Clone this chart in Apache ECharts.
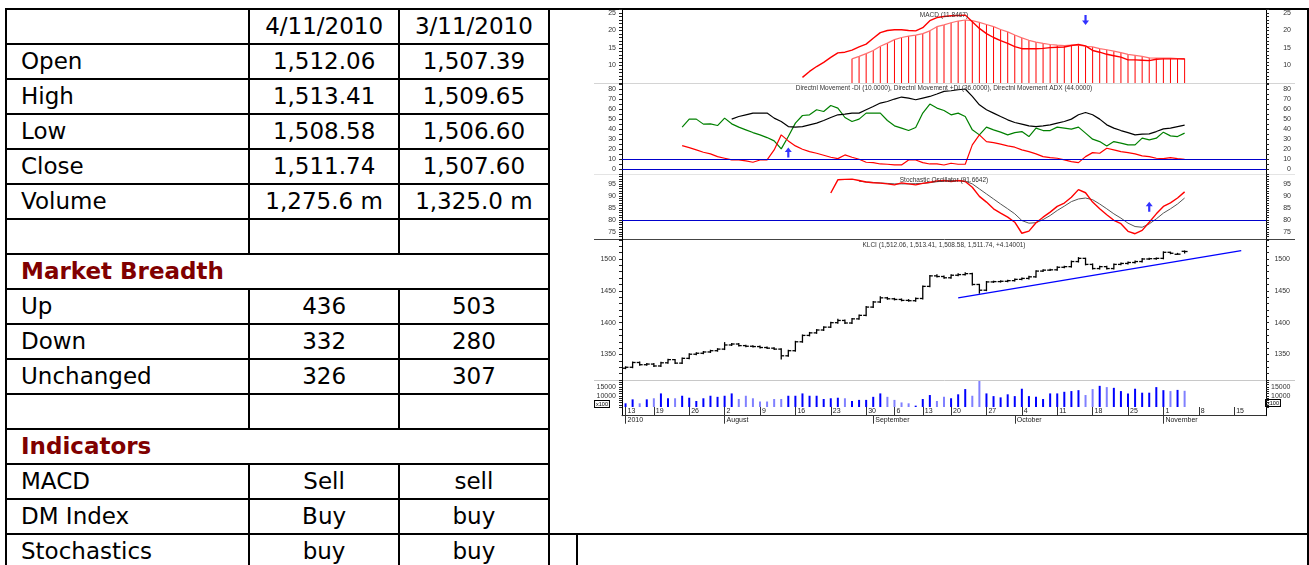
<!DOCTYPE html>
<html>
<head>
<meta charset="utf-8">
<script src="https://cdn.jsdelivr.net/npm/echarts@6/dist/echarts.min.js"></script>
<style>
html,body{margin:0;padding:0;background:#fff;width:1309px;height:565px;overflow:hidden}
#tbl{position:absolute;left:5px;top:8px;border-collapse:collapse;table-layout:fixed;font-family:"DejaVu Sans",Verdana,sans-serif;font-size:23px;color:#000}
#tbl td{border:2px solid #000;padding:0;height:33px;line-height:33px;white-space:nowrap;overflow:hidden}
#tbl td.l{padding-left:14px}
#tbl td.v{text-align:center}
#tbl td.h{color:#800000;font-weight:bold;padding-left:14px}
#chart{position:absolute;left:0;top:0;width:1309px;height:565px;z-index:2}
</style>
</head>
<body>
<table id="tbl">
<colgroup><col style="width:247px"><col style="width:151px"><col style="width:151px"><col style="width:29px"><col style="width:760px"></colgroup>
<tr><td></td><td class="v">4/11/2010</td><td class="v">3/11/2010</td><td colspan="2" rowspan="15"></td></tr>
<tr><td class="l">Open</td><td class="v">1,512.06</td><td class="v">1,507.39</td></tr>
<tr><td class="l">High</td><td class="v">1,513.41</td><td class="v">1,509.65</td></tr>
<tr><td class="l">Low</td><td class="v">1,508.58</td><td class="v">1,506.60</td></tr>
<tr><td class="l">Close</td><td class="v">1,511.74</td><td class="v">1,507.60</td></tr>
<tr><td class="l">Volume</td><td class="v">1,275.6 m</td><td class="v">1,325.0 m</td></tr>
<tr><td></td><td></td><td></td></tr>
<tr><td class="h" colspan="3">Market Breadth</td></tr>
<tr><td class="l">Up</td><td class="v">436</td><td class="v">503</td></tr>
<tr><td class="l">Down</td><td class="v">332</td><td class="v">280</td></tr>
<tr><td class="l">Unchanged</td><td class="v">326</td><td class="v">307</td></tr>
<tr><td></td><td></td><td></td></tr>
<tr><td class="h" colspan="3">Indicators</td></tr>
<tr><td class="l">MACD</td><td class="v">Sell</td><td class="v">sell</td></tr>
<tr><td class="l">DM Index</td><td class="v">Buy</td><td class="v">buy</td></tr>
<tr><td class="l">Stochastics</td><td class="v">buy</td><td class="v">buy</td><td></td><td></td></tr>
</table>
<div id="chart"></div>
<script>
// trading days, 13 Jul - 19 Nov 2010
var dates = ['7/13','7/14','7/15','7/16',
	'7/19','7/20','7/21','7/22','7/23',
	'7/26','7/27','7/28','7/29','7/30',
	'8/2','8/3','8/4','8/5','8/6',
	'8/9','8/10','8/11','8/12','8/13',
	'8/16','8/17','8/18','8/19','8/20',
	'8/23','8/24','8/25','8/26','8/27',
	'8/30','9/1','9/2','9/3',
	'9/6','9/7','9/8','9/9',
	'9/13','9/14','9/15','9/17',
	'9/20','9/21','9/22','9/23','9/24',
	'9/27','9/28','9/29','9/30','10/1',
	'10/4','10/5','10/6','10/7','10/8',
	'10/11','10/12','10/13','10/14','10/15',
	'10/18','10/19','10/20','10/21','10/22',
	'10/25','10/26','10/27','10/28','10/29',
	'11/1','11/2','11/3','11/4','11/5',
	'11/8','11/9','11/10','11/11','11/12',
	'11/15','11/16','11/17','11/18','11/19'];
var monthNames = {8:'August',9:'September',10:'October',11:'November'};

var priceOpen = [1328.5,1330.0,1337.5,1334.0,1335.0,1332.0,1337.0,1342.0,1336.5,1344.0,
	1350.5,1352.0,1354.0,1356.0,1358.5,1365.0,1366.5,1364.0,1363.0,1362.5,
	1361.0,1360.0,1358.5,1348.0,1356.0,1370.0,1380.0,1384.0,1388.5,1393.0,
	1400.0,1403.5,1399.5,1406.0,1411.5,1424.5,1432.5,1439.0,1437.5,1436.5,
	1435.0,1434.5,1438.0,1457.0,1473.5,1472.5,1470.5,1474.5,1475.5,1477.0,
	1460.0,1451.0,1464.0,1464.5,1465.0,1466.0,1468.0,1469.5,1472.0,1481.0,
	1482.5,1483.0,1487.0,1488.0,1496.0,1501.0,1491.5,1485.0,1488.0,1485.0,
	1491.5,1493.0,1494.5,1496.0,1500.0,1500.5,1501.0,1510.5,1507.39,1512.06];
var priceHigh = [1331.5,1339.0,1339.0,1336.5,1336.5,1338.5,1343.5,1343.0,1345.5,1352.0,
	1353.5,1355.5,1357.5,1360.0,1369.5,1368.0,1368.0,1365.5,1364.5,1364.0,
	1362.5,1361.5,1360.0,1357.5,1371.5,1381.5,1385.5,1390.0,1394.5,1401.5,
	1406.0,1405.0,1407.5,1413.0,1426.0,1434.0,1441.5,1440.5,1439.0,1438.0,
	1437.0,1439.5,1458.5,1475.0,1476.0,1474.0,1476.0,1477.5,1479.0,1478.5,
	1461.0,1465.5,1466.0,1466.5,1467.5,1469.5,1471.0,1473.5,1482.5,1484.0,
	1484.5,1488.5,1489.5,1497.5,1503.0,1502.0,1493.0,1489.5,1489.5,1493.0,
	1494.5,1496.0,1497.5,1501.5,1502.0,1502.5,1512.0,1511.5,1509.65,1513.41];
var priceLow = [1327.0,1328.5,1332.5,1332.5,1330.5,1330.5,1335.5,1335.0,1335.0,1342.5,
	1349.0,1350.5,1352.5,1354.5,1357.0,1363.5,1362.5,1361.5,1361.0,1359.5,
	1358.5,1357.0,1342.0,1346.5,1354.5,1368.5,1378.5,1382.5,1387.0,1391.5,
	1398.5,1398.0,1398.0,1404.5,1410.0,1423.0,1431.0,1436.0,1435.0,1433.5,
	1433.0,1433.0,1436.5,1455.5,1471.0,1469.0,1469.0,1473.0,1474.0,1458.5,
	1445.5,1449.5,1462.5,1463.0,1463.5,1464.5,1466.5,1468.0,1470.5,1479.5,
	1481.0,1481.5,1485.5,1486.5,1494.5,1490.0,1483.5,1483.5,1483.5,1483.5,
	1490.0,1491.5,1493.0,1494.5,1498.5,1499.0,1499.5,1507.5,1506.60,1508.58];
var priceClose = [1330.0,1337.5,1334.0,1335.0,1332.0,1337.0,1342.0,1336.5,1344.0,1350.5,
	1352.0,1354.0,1356.0,1358.5,1365.0,1366.5,1364.0,1363.0,1362.5,1361.0,
	1360.0,1358.5,1348.0,1356.0,1370.0,1380.0,1384.0,1388.5,1393.0,1400.0,
	1403.5,1399.5,1406.0,1411.5,1424.5,1432.5,1439.0,1437.5,1436.5,1435.0,
	1434.5,1438.0,1457.0,1473.5,1472.5,1470.5,1474.5,1475.5,1477.0,1460.0,
	1451.0,1464.0,1464.5,1465.0,1466.0,1468.0,1469.5,1472.0,1481.0,1482.5,
	1483.0,1487.0,1488.0,1496.0,1501.0,1491.5,1485.0,1488.0,1485.0,1491.5,
	1493.0,1494.5,1496.0,1500.0,1500.5,1501.0,1510.5,1509.0,1507.60,1511.74];
// volume in x100
var volume = [5800,8000,5800,8000,8600,11300,8600,8600,10000,8900,
	7100,8600,10000,9400,10000,11300,8200,10000,8600,6800,
	6800,8200,8200,10000,10000,11300,10000,10000,8200,8600,
	8900,8600,7100,7700,7700,9400,11300,9400,7700,6300,
	5800,4500,8200,10400,7100,9400,8600,10800,13700,10000,
	18200,11300,9800,9100,10800,9800,13900,9800,9400,8200,
	11300,11300,12200,12600,13100,10400,13700,15500,14800,14400,
	12600,11300,13900,11700,11700,14800,13100,12600,13250,12756];

var macdStart = 25;
var macdLine = [6.6,8.3,9.7,10.9,12.3,13.6,13.8,14.4,15.3,16.1,
	17.8,19.4,20.0,20.2,20.2,20.0,19.9,20.8,22.8,23.7,
	24.0,24.2,24.3,24.4,22.5,20.6,19.1,18.0,17.1,16.3,
	15.4,14.8,14.8,14.8,14.9,15.1,15.2,15.3,15.7,16.0,
	15.6,14.3,13.8,13.2,12.8,12.4,11.6,11.6,11.5,11.4,
	11.8,11.9,11.9,11.9,11.85];
var signalStart = 32;
var macdSignal = [11.9,12.6,13.4,14.3,15.5,16.4,17.4,18.0,18.4,18.7,
	19.1,19.9,21.1,21.6,22.2,22.7,23.0,22.8,22.3,21.7,
	21.1,20.3,19.6,18.7,17.9,17.2,16.7,16.3,16.0,15.8,
	15.7,15.8,15.8,15.5,15.3,14.8,14.5,14.1,13.7,13.2,
	12.9,12.6,12.2,12.1,12.1,12.1,12.0,12.0];

var diStart = 8;
var diPlus = [42,50,50,45,45.3,43.6,51,45.3,42,39.3,
	36.6,34.3,31.6,28.3,20.3,32.6,46,53.6,54.3,59.3,
	57.6,63.6,61,51.6,47.6,50,56,56,56,48.6,
	43.3,41,38.6,41.6,56,65,61,58.6,54.3,56,
	52.6,39.3,34.3,42,39.3,37,34.3,36.6,37.6,32.6,
	41,38.6,38.6,42,41,40,42,36,30,27.6,
	23.3,27.6,26,24.3,24.3,31,29.3,31,37,33.3,
	32.6,36];
var diMinus = [23.6,21.6,19.3,17,15.3,12.6,11,9.3,9.3,8.3,
	7,9.3,9.3,19.3,34.3,28.3,23.3,20,17.6,16,
	14,12,10.6,14.3,12,10,7,6.6,5.3,5,
	4.3,4.3,9.3,9.3,6.6,5.3,5.3,4.3,6,5,
	5,24.3,34.3,27.6,26.6,25,23.3,22,19.3,17.6,
	15.3,12.6,11.6,11,9.3,7.6,6.6,12.6,16.6,16,
	21,19.3,17.6,16.6,15.3,13.3,12.6,11,10.6,11.6,
	10.6,10];
var adxStart = 15;
var adx = [50,52.6,54.3,56,56,56,51,47.6,42.6,42,
	42.6,44.3,46,48.6,51.6,54.3,55,56,56,59.3,
	62.6,66,67.6,70,72,71,69.3,71,72.6,75,
	77.6,78.3,79.3,80,72.6,64.3,59.3,56,52.6,49.3,
	46.6,45,43.3,42.6,43.3,44.3,46,47.6,50,54.3,
	56.6,54.3,50,44.3,41,38.6,36.6,34.3,35,35.3,
	37.6,40.3,41,42.6,44];

var stochKStart = 29;
var stochK = [91.2,96.7,96.9,97.0,96.4,95.8,95.5,95.3,95.0,94.6,
	95.4,95.0,94.6,95.2,95.7,96.2,96.4,96.0,96.4,96.0,
	93.6,89.8,87.4,84.6,82.8,81.1,79.0,74.4,75.3,78.8,
	81.1,83.2,85.6,87.0,89.4,92.6,91.3,87.4,84.6,82.1,
	79.8,78.4,75.2,74.2,75.6,79.0,82.5,85.6,87.1,89.1,
	91.66];
var stochDStart = 33;
var stochD = [96.1,95.8,95.6,95.4,95.2,95.0,95.0,95.0,95.1,95.2,
	95.5,95.9,96.2,96.4,96.3,96.1,95.0,92.9,90.8,88.7,
	86.6,84.6,82.5,79.7,78.6,78.8,80.1,81.8,83.9,85.7,
	87.6,88.7,89.1,88.4,86.6,84.6,82.5,80.7,78.6,77.2,
	76.9,78.3,80.4,82.8,84.6,86.6,89.1];

var trendLine = [[47, 1439], [87, 1513]];
var macdSell = [[65, 23]];
var dmiBuy = [[23, 16.8]];
var stochBuy = [[74, 85.5]];

var axisFont = 'Liberation Sans';
var upArrow = 'path://M3.5,0 L7,5 L4.6,5 L4.6,11 L2.4,11 L2.4,5 L0,5 Z';

function pairs(start, values){
	return values.map(function(v, k){ return [start + k, v]; });
}
function mult(step, from){
	return function(v){ return v >= from && Math.abs(v / step - Math.round(v / step)) < 1e-6; };
}
function catAxis(g){
	return {type:'category', gridIndex:g, data:dates, boundaryGap:true, show:false};
}
function valAxis(g, side, min, max, interval, keep, rightMargin, rightAlign){
	var left = side == 'left';
	return {
		type:'value', gridIndex:g, position:side, min:min, max:max, interval:interval,
		splitLine:{show:false},
		axisLine:{show:true, onZero:false, lineStyle:{color:'#000', width:1}},
		axisTick:{show:true, length:3, lineStyle:{color:'#222'}},
		axisLabel:{
			show:true, fontSize:7, fontFamily:axisFont, color:'#333',
			margin: left ? 6 : (rightMargin || 25),
			align: left ? 'right' : (rightAlign || 'right'),
			formatter:function(v){ return keep(v) ? String(Math.round(v)) : ''; }
		}
	};
}
function blueLevels(levels){
	return {
		silent:true, symbol:'none', animation:false, label:{show:false},
		lineStyle:{color:'#0000cc', type:'solid', width:1, opacity:1},
		emphasis:{disabled:true},
		data:levels.map(function(v){ return {yAxis:v}; })
	};
}
function isWeekStart(i, v){
	var p = v.split('/');
	return i === 0 || new Date(2010, +p[0] - 1, +p[1]).getDay() === 1;
}
function isMonthStart(i, v){
	return i === 0 || v.split('/')[0] !== dates[i - 1].split('/')[0];
}
function renderOhlc(params, api){
	var x = api.value(0);
	var o = api.coord([x, api.value(1)]);
	var h = api.coord([x, api.value(2)]);
	var l = api.coord([x, api.value(3)]);
	var c = api.coord([x, api.value(4)]);
	var w = api.size([1, 0])[0] * 0.42;
	var st = {stroke:'#000', lineWidth:1.3};
	return {type:'group', children:[
		{type:'line', shape:{x1:h[0], y1:h[1], x2:l[0], y2:l[1]}, style:st},
		{type:'line', shape:{x1:o[0] - w, y1:o[1], x2:o[0], y2:o[1]}, style:st},
		{type:'line', shape:{x1:c[0], y1:c[1], x2:c[0] + w, y2:c[1]}, style:st}
	]};
}
function sepLine(y, color){
	return {type:'line', silent:true, shape:{x1:594, y1:y, x2:1295, y2:y}, style:{stroke:color, lineWidth:1}};
}
function panelTitle(y, text){
	return {type:'text', silent:true, x:944, y:y, z:100,
		style:{text:text, fontSize:6.5, fontFamily:axisFont, fill:'#333', align:'center', verticalAlign:'middle'}};
}
function boxLabel(x, y){
	return {type:'text', silent:true, x:x, y:y,
		style:{text:'x100', fontSize:5.5, fontFamily:axisFont, fill:'#000', align:'center', verticalAlign:'middle',
			borderColor:'#000', borderWidth:1, padding:[0,1,0,1], backgroundColor:'#fff'}};
}

var ohlcData = priceClose.map(function(c, i){
	return [i, priceOpen[i], priceHigh[i], priceLow[i], c];
});

var gridBase = {left:622, width:644, outerBoundsMode:'none', containLabel:false};
var grids = [
	Object.assign({top:9, height:74}, gridBase),
	Object.assign({top:83, height:91.3}, gridBase),
	Object.assign({top:174.3, height:64.7}, gridBase),
	Object.assign({top:239, height:141}, gridBase),
	Object.assign({top:380, height:27}, gridBase),
	Object.assign({top:407, height:8.7}, gridBase)
];

var xAxes = [catAxis(0), catAxis(1), catAxis(2), catAxis(3), catAxis(4),
	{
		type:'category', gridIndex:5, data:dates, boundaryGap:true, position:'bottom',
		axisLine:{show:true, onZero:false, lineStyle:{color:'#333', width:1}},
		axisTick:{show:true, inside:true, length:8.7, alignWithLabel:true, interval:isWeekStart, lineStyle:{color:'#333'}},
		axisLabel:{show:true, inside:true, margin:1.5, interval:isWeekStart, align:'left', padding:[0,0,0,2],
			fontSize:7, fontFamily:axisFont, color:'#222', hideOverlap:false,
			formatter:function(v){ return v.split('/')[1]; }}
	},
	{
		type:'category', gridIndex:5, data:dates, boundaryGap:true, position:'bottom',
		axisLine:{show:false, onZero:false},
		axisTick:{show:true, length:8, alignWithLabel:true, interval:isMonthStart, lineStyle:{color:'#333'}},
		axisLabel:{show:true, margin:1, interval:isMonthStart, align:'left', padding:[0,0,0,2],
			fontSize:7, fontFamily:axisFont, color:'#222', hideOverlap:false,
			formatter:function(v, i){ return i === 0 ? '2010' : monthNames[+v.split('/')[0]]; }}
	}
];

var yAxes = [
	valAxis(0, 'left', 5, 26.14, 1, mult(5, 10)),
	valAxis(0, 'right', 5, 26.14, 1, mult(5, 10)),
	valAxis(1, 'left', -5, 86, 5, mult(10, 0)),
	valAxis(1, 'right', -5, 86, 5, mult(10, 0)),
	valAxis(2, 'left', 72, 99, 1, mult(5, 75)),
	valAxis(2, 'right', 72, 99, 1, mult(5, 75)),
	valAxis(3, 'left', 1310, 1531.4, 10, mult(50, 1350)),
	valAxis(3, 'right', 1310, 1531.4, 10, mult(50, 1350), 24),
	valAxis(4, 'left', 3750, 18750, 1250, function(v){ return v == 10000 || v == 15000; }),
	valAxis(4, 'right', 3750, 18750, 1250, function(v){ return v == 10000 || v == 15000; }, 5, 'left'),
	{type:'value', gridIndex:5, position:'left', min:0, max:1, axisLine:{show:true, lineStyle:{color:'#000'}}, axisTick:{show:false}, axisLabel:{show:false}, splitLine:{show:false}},
	{type:'value', gridIndex:5, position:'right', min:0, max:1, axisLine:{show:true, lineStyle:{color:'#000'}}, axisTick:{show:false}, axisLabel:{show:false}, splitLine:{show:false}}
];

var option = {
	backgroundColor:'transparent',
	animation:false,
	grid:grids,
	xAxis:xAxes,
	yAxis:yAxes,
	graphic:[
		sepLine(83.5, '#d4d4d4'),
		sepLine(174.5, '#e4e4e4'),
		sepLine(239.5, '#444'),
		sepLine(380.5, '#c8c8c8'),
		panelTitle(15, 'MACD (11.8467)'),
		panelTitle(88.5, 'Directnl Movement -DI (10.0000), Directnl Movement +DI (36.0000), Directnl Movement ADX (44.0000)'),
		panelTitle(180, 'Stochastic Oscillator (91.6642)'),
		panelTitle(245.5, 'KLCI (1,512.06, 1,513.41, 1,508.58, 1,511.74, +4.14001)'),
		boxLabel(602, 404),
		boxLabel(1273, 403)
	],
	series:[
		{name:'signalBars', type:'bar', xAxisIndex:0, yAxisIndex:0, data:pairs(signalStart, macdSignal),
			barWidth:1, itemStyle:{color:'#ff0000'}, silent:true},
		{name:'signal', type:'line', xAxisIndex:0, yAxisIndex:0, data:pairs(signalStart, macdSignal),
			symbol:'none', lineStyle:{color:'#ff7070', width:1.2}},
		{name:'MACD', type:'line', xAxisIndex:0, yAxisIndex:0, data:pairs(macdStart, macdLine),
			symbol:'none', lineStyle:{color:'#ff0000', width:1.4}},
		{name:'macdSell', type:'scatter', xAxisIndex:0, yAxisIndex:0, data:macdSell,
			symbol:upArrow, symbolRotate:180, symbolSize:[7, 10], itemStyle:{color:'#0000ff'}, z:10},

		{name:'levels', type:'line', xAxisIndex:1, yAxisIndex:2, data:[], markLine:blueLevels([0, 10])},
		{name:'+DI', type:'line', xAxisIndex:1, yAxisIndex:2, data:pairs(diStart, diPlus),
			symbol:'none', lineStyle:{color:'#008000', width:1.2}},
		{name:'-DI', type:'line', xAxisIndex:1, yAxisIndex:2, data:pairs(diStart, diMinus),
			symbol:'none', lineStyle:{color:'#ff0000', width:1.2}},
		{name:'ADX', type:'line', xAxisIndex:1, yAxisIndex:2, data:pairs(adxStart, adx),
			symbol:'none', lineStyle:{color:'#000', width:1.2}},
		{name:'dmiBuy', type:'scatter', xAxisIndex:1, yAxisIndex:2, data:dmiBuy,
			symbol:upArrow, symbolSize:[7, 10], itemStyle:{color:'#0000ff'}, z:10},

		{name:'level80', type:'line', xAxisIndex:2, yAxisIndex:4, data:[], markLine:blueLevels([80])},
		{name:'%D', type:'line', xAxisIndex:2, yAxisIndex:4, data:pairs(stochDStart, stochD),
			symbol:'none', lineStyle:{color:'#555', width:1}},
		{name:'%K', type:'line', xAxisIndex:2, yAxisIndex:4, data:pairs(stochKStart, stochK),
			symbol:'none', lineStyle:{color:'#ff0000', width:1.4}},
		{name:'stochBuy', type:'scatter', xAxisIndex:2, yAxisIndex:4, data:stochBuy,
			symbol:upArrow, symbolSize:[7, 10], itemStyle:{color:'#0000ff'}, z:10},

		{name:'KLCI', type:'custom', xAxisIndex:3, yAxisIndex:6, data:ohlcData,
			encode:{x:0, y:[1, 2, 3, 4]}, renderItem:renderOhlc, silent:true},
		{name:'trend', type:'line', xAxisIndex:3, yAxisIndex:6, data:trendLine,
			symbol:'none', lineStyle:{color:'#0000ff', width:1.3}},

		{name:'Volume', type:'bar', xAxisIndex:4, yAxisIndex:8, data:volume, barWidth:2,
			itemStyle:{color:function(p){
				var i = p.dataIndex;
				return priceClose[i] >= priceOpen[i] ? '#0000ff' : '#8080ff';
			}}}
	]
};

var myChart = echarts.init(document.getElementById('chart'));
myChart.setOption(option);
</script>
</body>
</html>
